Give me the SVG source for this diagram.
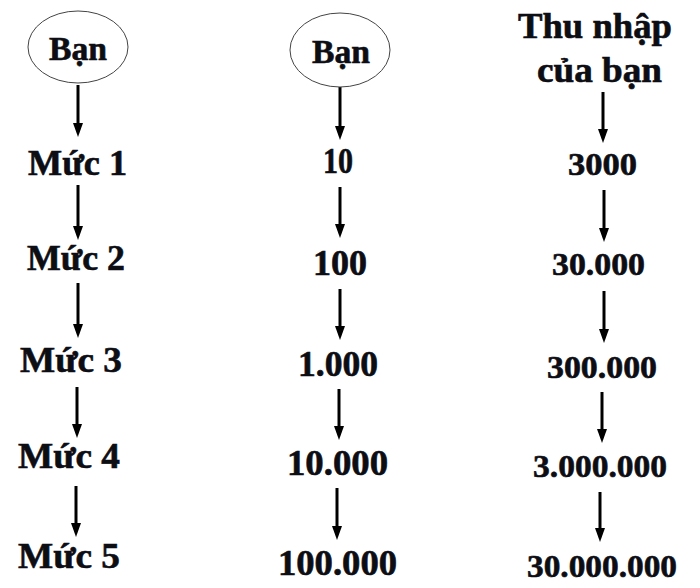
<svg xmlns="http://www.w3.org/2000/svg" width="700" height="588" viewBox="0 0 700 588">
<defs>
<marker id="ah" markerUnits="userSpaceOnUse" markerWidth="14" markerHeight="10" refX="2" refY="5" orient="auto">
<path d="M0,0 L14,5 L0,10 z" fill="#000"/>
</marker>
<style>
.t{font-family:"Liberation Serif",serif;font-weight:bold;font-size:35px;fill:#0d0d14;stroke:#0d0d14;stroke-width:0.6;text-anchor:middle}
.s{font-size:32px}
.b{font-size:33px}
.e{fill:#fff;stroke:#444;stroke-width:1}
.c line{stroke:#000;stroke-width:3;marker-end:url(#ah)}
</style>
</defs>
<rect width="700" height="588" fill="#fff"/>
<g id="connectors" class="c">
<line x1="78" y1="85" x2="78" y2="125"/>
<line x1="78" y1="185" x2="78" y2="228"/>
<line x1="78" y1="283" x2="78" y2="326"/>
<line x1="77" y1="387" x2="77" y2="426"/>
<line x1="76" y1="486" x2="76" y2="525"/>
<line x1="340" y1="87" x2="340" y2="128"/>
<line x1="340" y1="187" x2="340" y2="226"/>
<line x1="340" y1="289" x2="340" y2="328"/>
<line x1="339" y1="389" x2="339" y2="428"/>
<line x1="337" y1="488" x2="337" y2="528"/>
<line x1="603" y1="92" x2="603" y2="131"/>
<line x1="604" y1="190" x2="604" y2="230"/>
<line x1="604" y1="291" x2="604" y2="331"/>
<line x1="602" y1="392" x2="602" y2="431"/>
<line x1="600" y1="492" x2="600" y2="530"/>
</g>
<g id="ban1"><ellipse class="e" cx="78" cy="47" rx="50" ry="36"/><text class="t b" x="78" y="60" textLength="58" lengthAdjust="spacingAndGlyphs">Bạn</text></g>
<g id="muc1"><text class="t" x="77.5" y="175" textLength="99" lengthAdjust="spacingAndGlyphs">Mức 1</text></g>
<g id="muc2"><text class="t" x="76" y="270" textLength="98" lengthAdjust="spacingAndGlyphs">Mức 2</text></g>
<g id="muc3"><text class="t" x="71" y="372" textLength="102" lengthAdjust="spacingAndGlyphs">Mức 3</text></g>
<g id="muc4"><text class="t" x="69" y="468" textLength="102" lengthAdjust="spacingAndGlyphs">Mức 4</text></g>
<g id="muc5"><text class="t" x="69" y="568" textLength="102" lengthAdjust="spacingAndGlyphs">Mức 5</text></g>
<g id="ban2"><ellipse class="e" cx="340" cy="50" rx="50" ry="37"/><text class="t b" x="341" y="63" textLength="58" lengthAdjust="spacingAndGlyphs">Bạn</text></g>
<g id="n10"><text class="t" x="338" y="173" textLength="30" lengthAdjust="spacingAndGlyphs">10</text></g>
<g id="n100"><text class="t" x="340" y="275" textLength="54" lengthAdjust="spacingAndGlyphs">100</text></g>
<g id="n1000"><text class="t" x="338" y="376" textLength="80" lengthAdjust="spacingAndGlyphs">1.000</text></g>
<g id="n10000"><text class="t" x="337.5" y="475" textLength="101" lengthAdjust="spacingAndGlyphs">10.000</text></g>
<g id="n100000"><text class="t" x="337.5" y="575" textLength="119" lengthAdjust="spacingAndGlyphs">100.000</text></g>
<g id="thunhap"><text class="t" x="595" y="38" textLength="154" lengthAdjust="spacingAndGlyphs">Thu nhập</text><text class="t" x="599.5" y="82" textLength="125" lengthAdjust="spacingAndGlyphs">của bạn</text></g>
<g id="i3000"><text class="t s" x="602.5" y="175" textLength="69" lengthAdjust="spacingAndGlyphs">3000</text></g>
<g id="i30000"><text class="t s" x="598.5" y="275" textLength="93" lengthAdjust="spacingAndGlyphs">30.000</text></g>
<g id="i300000"><text class="t s" x="602" y="378" textLength="110" lengthAdjust="spacingAndGlyphs">300.000</text></g>
<g id="i3000000"><text class="t s" x="600" y="477" textLength="134" lengthAdjust="spacingAndGlyphs">3.000.000</text></g>
<g id="i30000000"><text class="t s" x="602" y="577" textLength="150" lengthAdjust="spacingAndGlyphs">30.000.000</text></g>
</svg>
